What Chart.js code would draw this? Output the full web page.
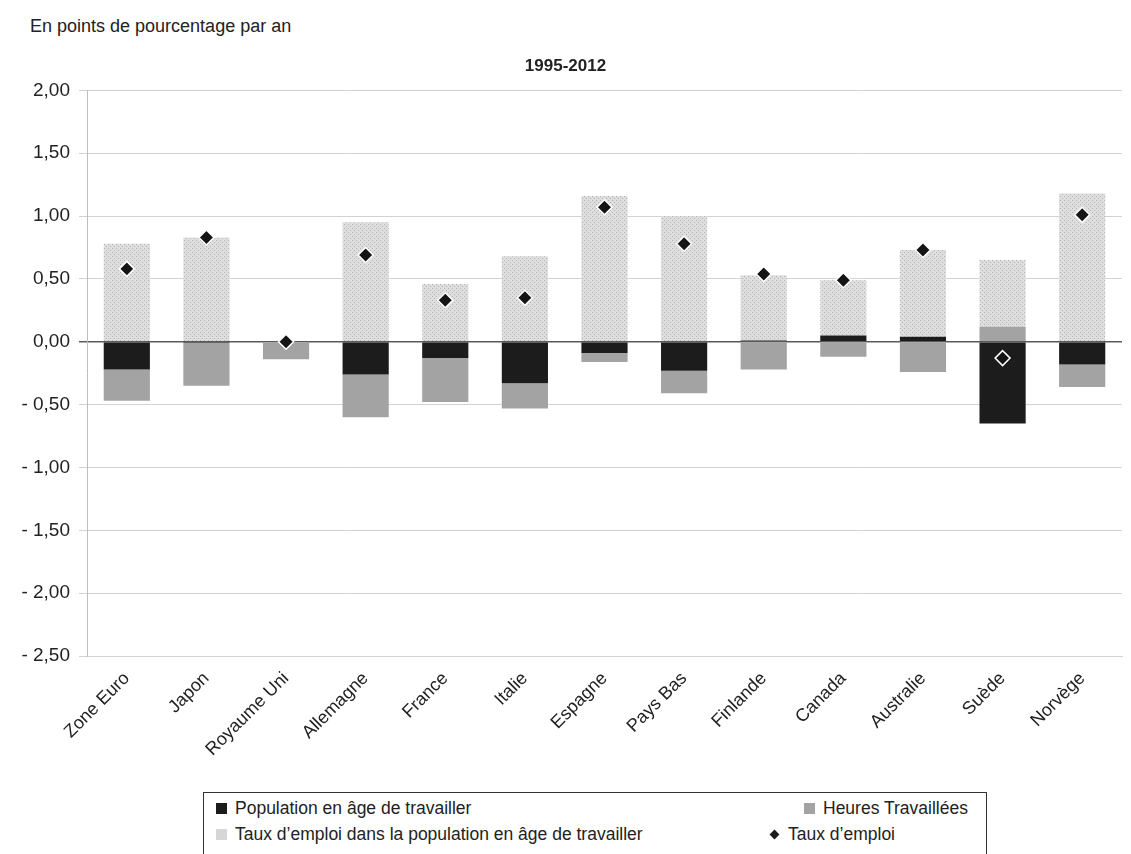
<!DOCTYPE html>
<html lang="fr">
<head>
  <meta charset="UTF-8" />
  <title>Contributions à la croissance de l'emploi, 1995-2012</title>
  <script src="https://cdn.jsdelivr.net/npm/chart.js"></script>
  <style>
    html, body { margin: 0; padding: 0; background: #fff; overflow: hidden; }
    body { width: 1131px; height: 854px; position: relative; font-family: "Liberation Sans", Arial, sans-serif; color: #222; }
    .unit { position: absolute; left: 30px; top: 16px; font-size: 18px; }
    .chart-box { position: absolute; left: 0; top: 0; width: 1131px; height: 790px; }
    .legend { position: absolute; left: 203px; top: 792px; width: 782px; height: 90px; border: 1px solid #333; font-size: 17.5px; }
    .legend .item { position: absolute; display: flex; align-items: center; white-space: nowrap; }
    .legend .sw { width: 11px; height: 11px; margin-right: 8px; }
    .sw.black { background: #1c1c1c; }
    .sw.grey { background: #a3a3a3; }
    .sw.dots { background: #d6d6d6; }
    .sw.diamond { width: 7px; height: 7px; background: #1c1c1c; transform: rotate(45deg); margin: 0 10px 0 3px; }
  </style>
</head>
<body>
  <div class="unit">En points de pourcentage par an</div>
  <div class="chart-box"><canvas id="chart"></canvas></div>

  <div class="legend">
    <div class="item" style="left:12px; top:5px;"><span class="sw black"></span>Population en âge de travailler</div>
    <div class="item" style="left:600px; top:5px;"><span class="sw grey"></span>Heures Travaillées</div>
    <div class="item" style="left:12px; top:31px;"><span class="sw dots"></span>Taux d’emploi dans la population en âge de travailler</div>
    <div class="item" style="left:564px; top:31px;"><span class="sw diamond"></span>Taux d’emploi</div>
  </div>

  <script>
    const countries = ['Zone Euro', 'Japon', 'Royaume Uni', 'Allemagne', 'France', 'Italie', 'Espagne',
                       'Pays Bas', 'Finlande', 'Canada', 'Australie', 'Suède', 'Norvège'];

    // contributions, points de pourcentage par an
    const populationAgeTravail = [-0.22, -0.01, 0.00, -0.26, -0.13, -0.33, -0.09, -0.23, 0.01, 0.05, 0.04, -0.65, -0.18];
    const heuresTravaillees    = [-0.25, -0.34, -0.14, -0.34, -0.35, -0.20, -0.07, -0.18, -0.22, -0.12, -0.24, 0.12, -0.18];
    const tauxEmploiPopulation = [0.78, 0.83, 0.00, 0.95, 0.46, 0.68, 1.16, 1.00, 0.52, 0.44, 0.69, 0.53, 1.18];
    const tauxEmploi           = [0.58, 0.83, 0.00, 0.69, 0.33, 0.35, 1.07, 0.78, 0.54, 0.49, 0.73, -0.13, 1.01];

    const yMin = -2.5, yMax = 2, yStep = 0.5;

    const FONT = '"Liberation Sans", Arial, sans-serif';

    // dotted fill for the employment-rate bars
    function dotPattern() {
      const c = document.createElement('canvas');
      c.width = 4; c.height = 4;
      const g = c.getContext('2d');
      g.fillStyle = '#dedede';
      g.fillRect(0, 0, 4, 4);
      g.fillStyle = '#b3b3b3';
      g.fillRect(0, 0, 1, 1);
      g.fillRect(2, 2, 1, 1);
      return g.createPattern(c, 'repeat');
    }

    function frNumber(v) {
      const s = Math.abs(v).toFixed(2).replace('.', ',');
      return v < 0 ? '- ' + s : s;
    }

    const barCommon = { stack: 'total', barPercentage: 0.58, categoryPercentage: 1, borderWidth: 0, order: 2 };

    new Chart(document.getElementById('chart'), {
      type: 'bar',
      data: {
        labels: countries,
        datasets: [
          { ...barCommon, label: 'Population en âge de travailler', data: populationAgeTravail, backgroundColor: '#1c1c1c' },
          { ...barCommon, label: 'Heures Travaillées', data: heuresTravaillees, backgroundColor: '#a3a3a3' },
          { ...barCommon, label: 'Taux d’emploi dans la population en âge de travailler', data: tauxEmploiPopulation, backgroundColor: dotPattern() },
          {
            type: 'line', label: 'Taux d’emploi', data: tauxEmploi, order: 0,
            showLine: false, pointStyle: 'rectRot', pointRadius: 7.5,
            pointBackgroundColor: '#151515', pointBorderColor: '#ffffff', pointBorderWidth: 1.5
          }
        ]
      },
      options: {
        responsive: true,
        maintainAspectRatio: false,
        animation: false,
        layout: { padding: { left: 0, right: 0, top: 0, bottom: 0 } },
        plugins: {
          legend: { display: false },
          tooltip: { enabled: false },
          title: {
            display: true,
            text: '1995-2012',
            color: '#222',
            font: { family: FONT, size: 17, weight: 'bold' },
            padding: { top: 56, bottom: 14 }
          }
        },
        scales: {
          x: {
            grid: { display: false },
            border: { display: true, color: '#d2d2d2' },
            ticks: {
              color: '#222', autoSkip: false, minRotation: 45, maxRotation: 45, padding: 4,
              font: { family: FONT, size: 18 }
            },
            afterFit(scale) { scale.height = 134; }
          },
          y: {
            min: yMin, max: yMax,
            border: { display: true, color: '#bdbdbd' },
            grid: {
              color: ctx => ctx.tick && ctx.tick.value === 0 ? '#5a5a5a' : '#d2d2d2',
              lineWidth: ctx => ctx.tick && ctx.tick.value === 0 ? 1.5 : 1,
              tickLength: 8
            },
            ticks: {
              stepSize: yStep, color: '#222', padding: 9,
              font: { family: FONT, size: 19 },
              callback: v => frNumber(v)
            },
            afterFit(scale) { scale.width = 87; }
          }
        }
      }
    });
  </script>
</body>
</html>
